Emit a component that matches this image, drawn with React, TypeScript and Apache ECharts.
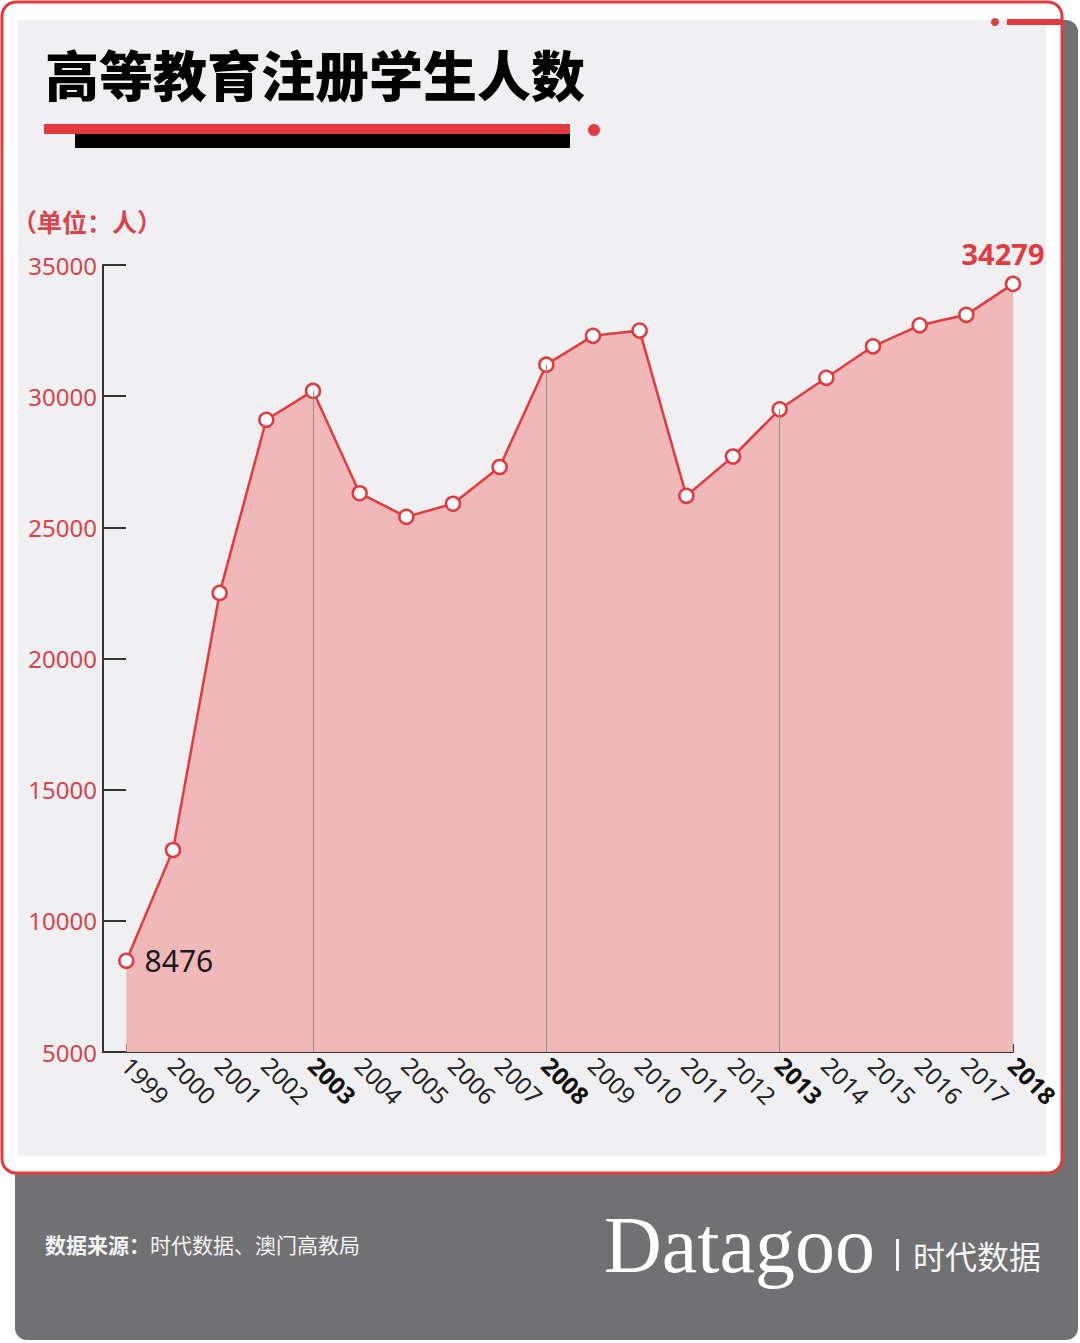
import React, { useEffect, useRef } from "react";
import * as echarts from "echarts";

const years = [1999, 2000, 2001, 2002, 2003, 2004, 2005, 2006, 2007, 2008, 2009, 2010, 2011, 2012, 2013, 2014, 2015, 2016, 2017, 2018];
const students = [8476, 12700, 22500, 29100, 30200, 26300, 25400, 25900, 27300, 31200, 32300, 32500, 26200, 27700, 29500, 30700, 31900, 32700, 33100, 34279];
const boldYears = [2003, 2008, 2013, 2018];
const guideYears = [2003, 2008, 2013];
const yMin = 5000;
const yMax = 35000;
const yStep = 5000;

const titleText = "高等教育注册学生人数";
const unitText = "（单位：人）";
const sourceLabel = "数据来源：";
const sourceText = "时代数据、澳门高教局";
const brandText = "Datagoo";
const brandCn = "时代数据";

const RED = "#e23b3f";
const AXIS_RED = "#d9434a";
const CJK = '"Noto Sans CJK SC", "Noto Sans", sans-serif';

export default function App() {
  const ref = useRef<HTMLDivElement>(null);
  useEffect(() => {
    document.body.style.margin = "0";
    const chart = echarts.init(ref.current!, null, { renderer: "svg" });
    const last = years.length - 1;
    const data = years.map((y, i) => {
      const item: any = { value: [y, students[i]] };
      if (i === 0) {
        item.label = {
          show: true,
          position: "right",
          distance: 10,
          color: "#1a1a1a",
          fontSize: 30,
          fontFamily: '"Noto Sans", sans-serif',
          formatter: (p: any) => String(p.value[1]),
        };
      }
      if (i === last) {
        item.label = {
          show: true,
          position: "top",
          distance: 8,
          offset: [-10, 0],
          color: RED,
          fontSize: 29,
          fontWeight: "bold",
          fontFamily: '"Noto Sans", sans-serif',
          formatter: (p: any) => String(p.value[1]),
        };
      }
      return item;
    });

    const option: any = {
      animation: false,
      backgroundColor: "#ffffff",
      grid: { left: 103, right: 67, top: 265, bottom: 291, containLabel: false },
      xAxis: {
        type: "value",
        min: years[0] - 0.5,
        max: years[last],
        splitLine: { show: false },
        axisLine: { show: true, lineStyle: { color: "#333", width: 2 } },
        axisTick: {
          show: true,
          inside: true,
          length: 8,
          customValues: years,
          lineStyle: { color: "#333", width: 2 },
        },
        axisLabel: {
          customValues: years,
          rotate: -45,
          margin: 9,
          fontSize: 24,
          color: "#222",
          fontFamily: '"Noto Sans", sans-serif',
          formatter: (v: number) => (boldYears.includes(v) ? `{b|${v}}` : `{n|${v}}`),
          rich: {
            n: { fontSize: 24, color: "#222", fontFamily: '"Noto Sans", sans-serif' },
            b: { fontSize: 24, color: "#111", fontWeight: "bold", fontFamily: '"Noto Sans", sans-serif' },
          },
        },
      },
      yAxis: {
        type: "value",
        min: yMin,
        max: yMax,
        interval: yStep,
        splitLine: { show: false },
        axisLine: { show: true, lineStyle: { color: "#333", width: 2 } },
        axisTick: { show: true, inside: true, length: 23, lineStyle: { color: "#333", width: 2 } },
        axisLabel: {
          margin: 6,
          fontSize: 24,
          color: AXIS_RED,
          fontFamily: '"Noto Sans", sans-serif',
          formatter: (v: number) => String(v),
        },
      },
      series: [
        {
          type: "line",
          data,
          z: 3,
          symbol: "circle",
          symbolSize: 14,
          showAllSymbol: true,
          itemStyle: { color: "#ffffff", borderColor: RED, borderWidth: 2.5 },
          lineStyle: { color: RED, width: 2.5 },
          areaStyle: { color: "#f1b8b9", opacity: 1, origin: "start" },
          markLine: {
            silent: true,
            symbol: "none",
            label: { show: false },
            lineStyle: { color: "#8c8c8c", width: 1, type: "solid" },
            data: guideYears.map((y) => [
              { coord: [y, yMin] },
              { coord: [y, students[years.indexOf(y)]] },
            ]),
          },
        },
      ],
      graphic: [
        { type: "rect", z: -20, shape: { x: 15, y: 20, width: 1063, height: 1320, r: 12 }, style: { fill: "#717073" } },
        { type: "rect", z: -15, shape: { x: 2, y: 2, width: 1060, height: 1171, r: 14 }, style: { fill: "#ffffff", stroke: RED, lineWidth: 3 } },
        { type: "rect", z: -12, shape: { x: 18, y: 20, width: 1028, height: 1136 }, style: { fill: "#f0f0f2" } },
        { type: "circle", z: -10, shape: { cx: 995, cy: 22, r: 4 }, style: { fill: RED } },
        { type: "rect", z: -10, shape: { x: 1007, y: 19, width: 56, height: 6 }, style: { fill: RED } },
        {
          type: "text",
          z: 10,
          style: {
            x: 45,
            y: 73,
            text: titleText,
            fill: "#000",
            font: `900 54px ${CJK}`,
            verticalAlign: "middle",
          },
        },
        { type: "rect", z: 5, shape: { x: 44, y: 124, width: 526, height: 10 }, style: { fill: RED } },
        { type: "rect", z: 5, shape: { x: 75, y: 134, width: 495, height: 14 }, style: { fill: "#000" } },
        { type: "circle", z: 5, shape: { cx: 594, cy: 130, r: 6 }, style: { fill: RED } },
        {
          type: "text",
          z: 10,
          style: { x: 12, y: 221, text: unitText, fill: AXIS_RED, font: `bold 25px ${CJK}`, verticalAlign: "middle" },
        },
        {
          type: "text",
          z: 10,
          style: {
            x: 45,
            y: 1244,
            text: `{b|${sourceLabel}}{r|${sourceText}}`,
            verticalAlign: "middle",
            rich: {
              b: { fill: "#f4f4f4", fontSize: 21, fontWeight: "bold", fontFamily: CJK },
              r: { fill: "#f4f4f4", fontSize: 21, fontFamily: CJK },
            },
          },
        },
        {
          type: "text",
          z: 10,
          style: {
            x: 604,
            y: 1245,
            text: brandText,
            fill: "#ffffff",
            font: `80px "Liberation Serif", "DejaVu Serif", serif`,
            verticalAlign: "middle",
          },
        },
        { type: "rect", z: 10, shape: { x: 896, y: 1239, width: 3, height: 32 }, style: { fill: "#f4f4f4" } },
        {
          type: "text",
          z: 10,
          style: {
            x: 913,
            y: 1255,
            text: brandCn,
            fill: "#f4f4f4",
            font: `32px ${CJK}`,
            verticalAlign: "middle",
          },
        },
      ],
    };
    chart.setOption(option);
    return () => chart.dispose();
  }, []);
  return <div ref={ref} style={{ width: 1080, height: 1343, position: "absolute", left: 0, top: 0 }} />;
}
